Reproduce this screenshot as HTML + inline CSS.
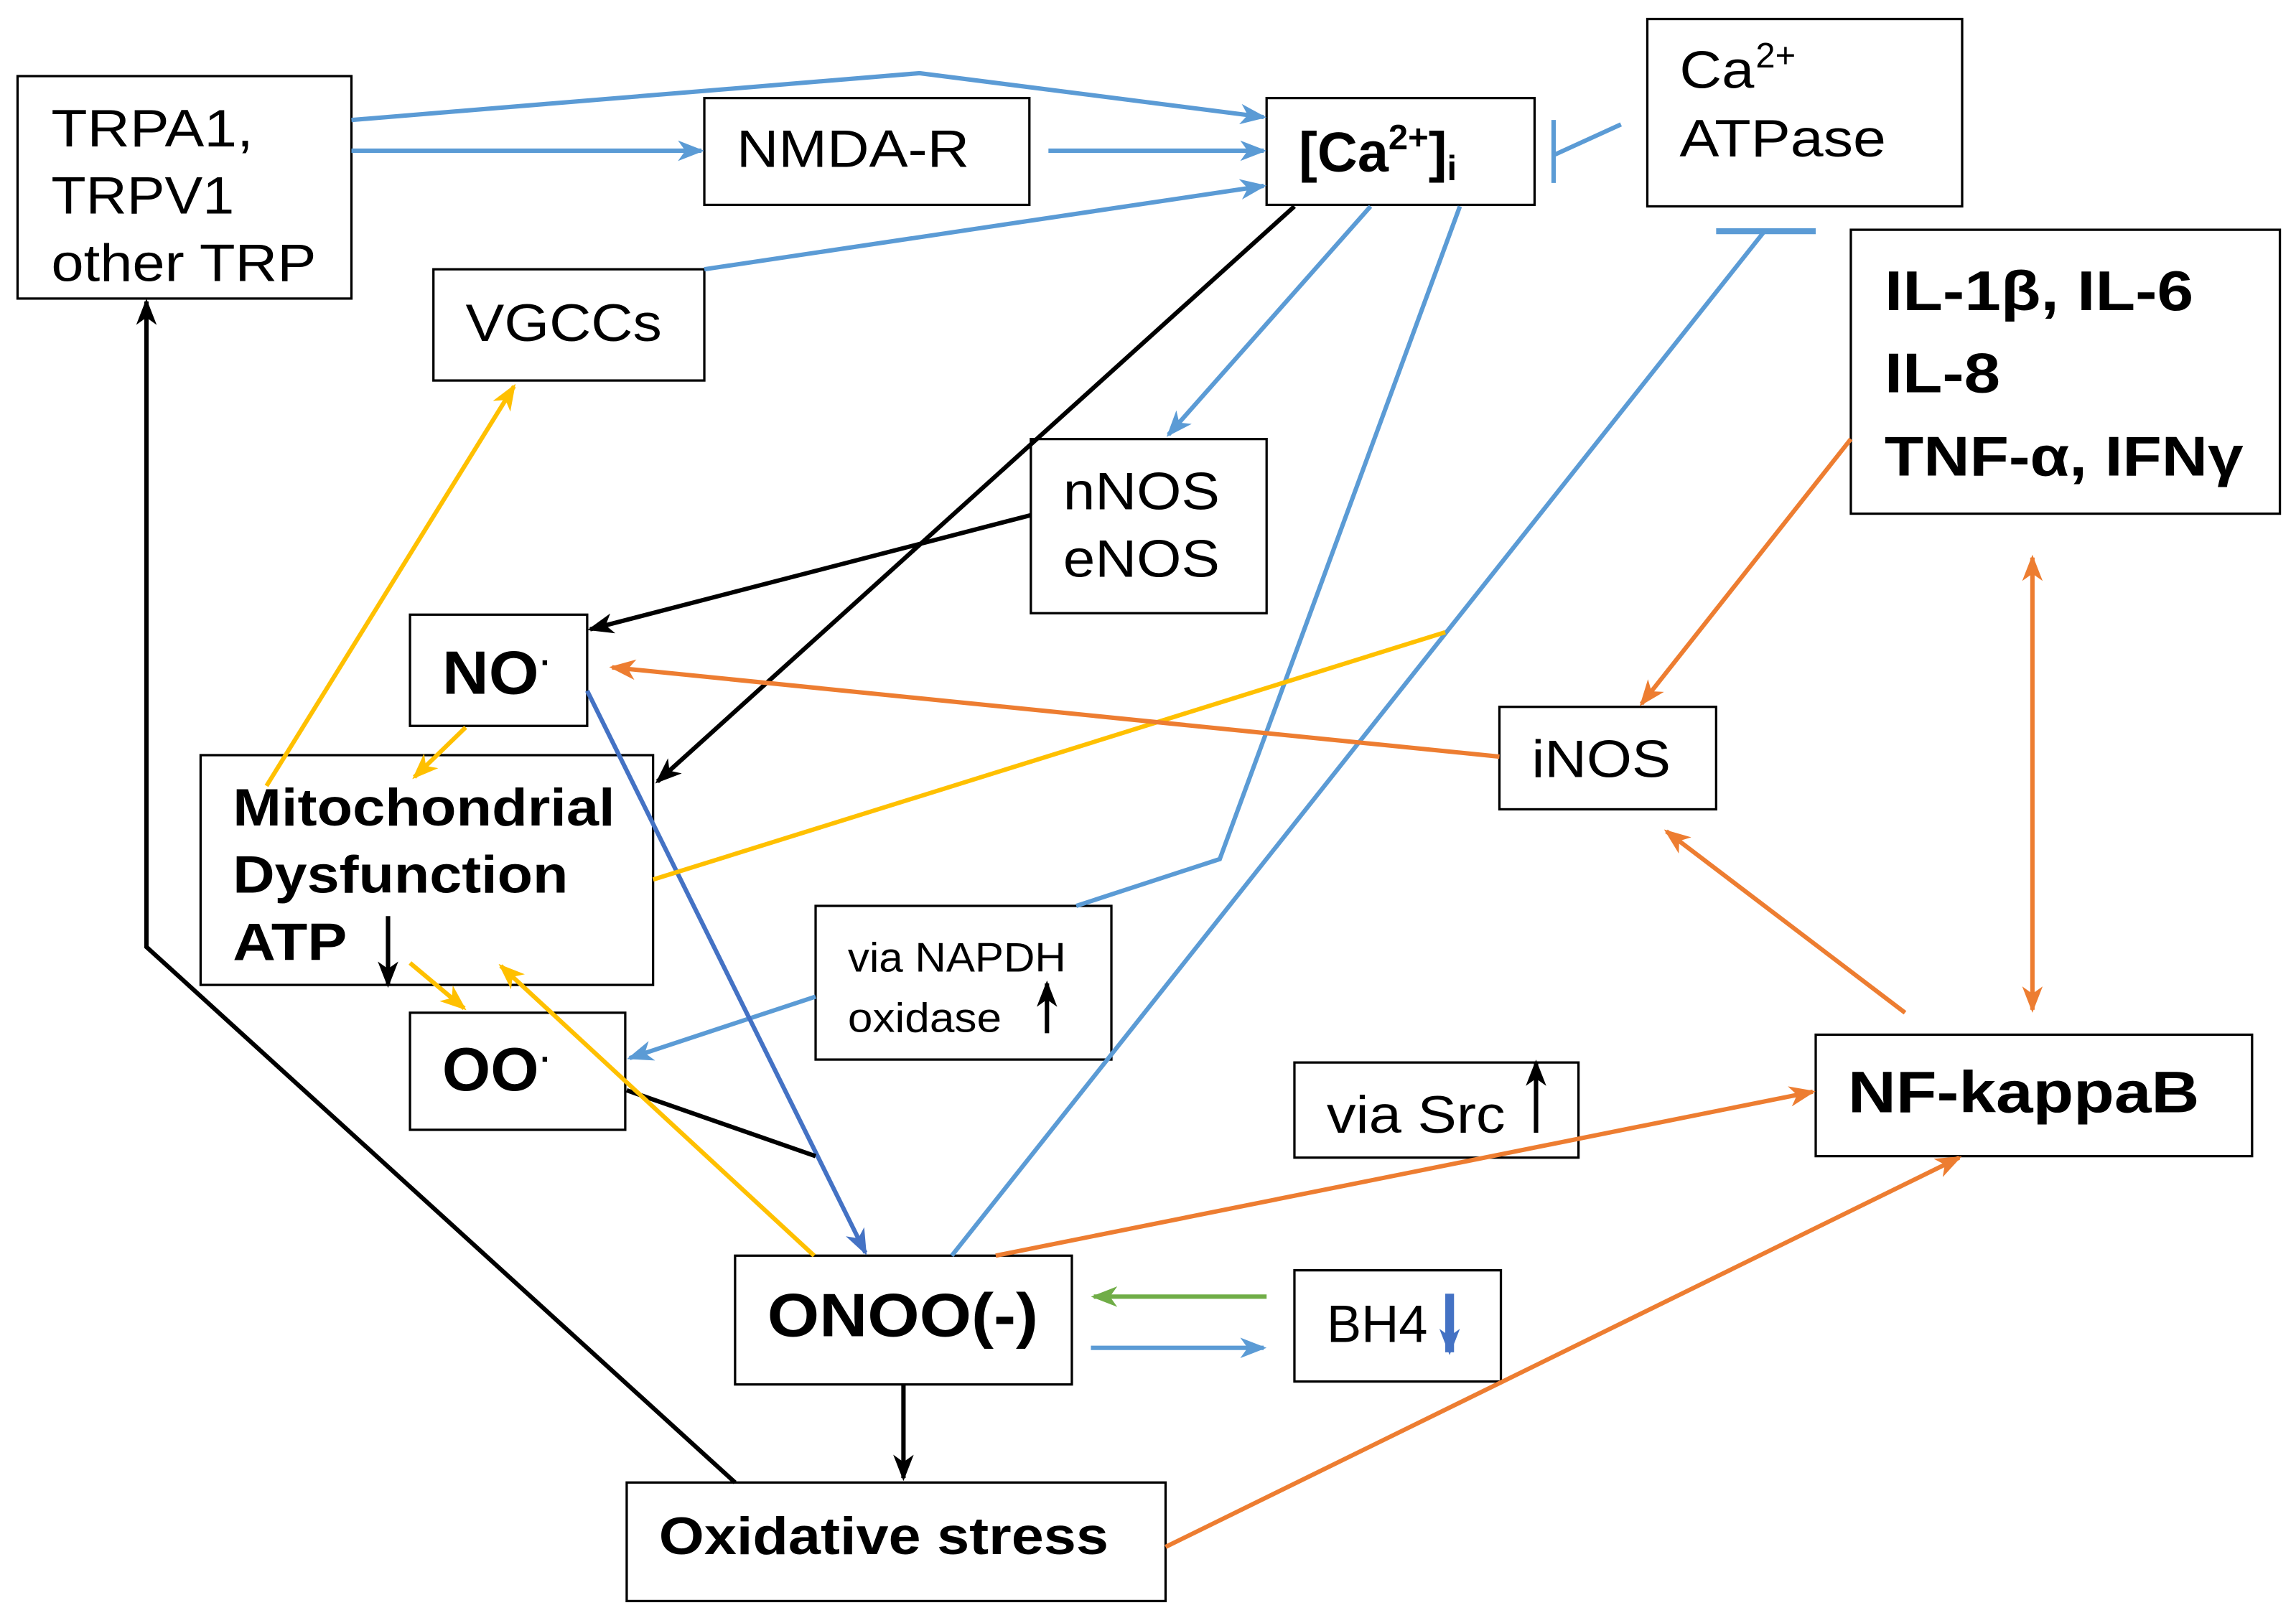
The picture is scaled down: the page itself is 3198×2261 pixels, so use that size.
<!DOCTYPE html>
<html><head><meta charset="utf-8"><style>
html,body{margin:0;padding:0;background:#fff;}
svg{display:block;}
text{font-family:"Liberation Sans",Arial,sans-serif;fill:#000;}
.b{font-weight:bold;}
</style></head><body>
<svg width="3198" height="2261" viewBox="0 0 1568 1109" preserveAspectRatio="none" xmlns="http://www.w3.org/2000/svg">
<defs>
<marker id="ab" markerWidth="18" markerHeight="14" refX="16" refY="7" orient="auto" markerUnits="userSpaceOnUse" viewBox="0 0 18 14"><path d="M0,0 L18,7 L0,14 L5,7z" fill="#5B9BD5"/></marker>
<marker id="ad" markerWidth="18" markerHeight="14" refX="16" refY="7" orient="auto" markerUnits="userSpaceOnUse" viewBox="0 0 18 14"><path d="M0,0 L18,7 L0,14 L5,7z" fill="#4472C4"/></marker>
<marker id="ak" markerWidth="18" markerHeight="14" refX="16" refY="7" orient="auto" markerUnits="userSpaceOnUse" viewBox="0 0 18 14"><path d="M0,0 L18,7 L0,14 L5,7z" fill="#000"/></marker>
<marker id="ay" markerWidth="18" markerHeight="14" refX="16" refY="7" orient="auto" markerUnits="userSpaceOnUse" viewBox="0 0 18 14"><path d="M0,0 L18,7 L0,14 L5,7z" fill="#FFC000"/></marker>
<marker id="ao" markerWidth="18" markerHeight="14" refX="16" refY="7" orient="auto-start-reverse" markerUnits="userSpaceOnUse" viewBox="0 0 18 14"><path d="M0,0 L18,7 L0,14 L5,7z" fill="#ED7D31"/></marker>
<marker id="ag" markerWidth="18" markerHeight="14" refX="16" refY="7" orient="auto" markerUnits="userSpaceOnUse" viewBox="0 0 18 14"><path d="M0,0 L18,7 L0,14 L5,7z" fill="#70AD47"/></marker>
</defs>
<g fill="#fff" stroke="#000" stroke-width="1.6">
<rect x="12" y="52" width="228" height="152"/>
<rect x="481" y="67" width="222" height="73"/>
<rect x="865" y="67" width="183" height="73"/>
<rect x="1125" y="13" width="215" height="128"/>
<rect x="296" y="184" width="185" height="76"/>
<rect x="1264" y="157" width="293" height="194"/>
<rect x="704" y="300" width="161" height="119"/>
<rect x="280" y="420" width="121" height="76"/>
<rect x="1024" y="483" width="148" height="70"/>
<rect x="137" y="516" width="309" height="157"/>
<rect x="557" y="619" width="202" height="105"/>
<rect x="280" y="692" width="147" height="80"/>
<rect x="884" y="726" width="194" height="65"/>
<rect x="1240" y="707" width="298" height="83"/>
<rect x="502" y="858" width="230" height="88"/>
<rect x="884" y="868" width="141" height="76"/>
<rect x="428" y="1013" width="368" height="81"/>
</g>
<g fill="none" stroke-width="3">
<polyline points="240,82 628,50 863,80" stroke="#5B9BD5" marker-end="url(#ab)"/>
<line x1="240" y1="103" x2="479" y2="103" stroke="#5B9BD5" marker-end="url(#ab)"/>
<line x1="716" y1="103" x2="863" y2="103" stroke="#5B9BD5" marker-end="url(#ab)"/>
<line x1="481" y1="184" x2="863" y2="127" stroke="#5B9BD5" marker-end="url(#ab)"/>
<line x1="936" y1="141" x2="798" y2="297" stroke="#5B9BD5" marker-end="url(#ab)"/>
<polyline points="997,141 833,587 735,619" stroke="#5B9BD5"/>
<line x1="557" y1="681" x2="430" y2="723" stroke="#5B9BD5" marker-end="url(#ab)"/>
<line x1="1205" y1="158" x2="650" y2="858" stroke="#5B9BD5"/>
<line x1="1172" y1="158" x2="1240" y2="158" stroke="#5B9BD5" stroke-width="4"/>
<line x1="1107" y1="85" x2="1061" y2="106" stroke="#5B9BD5"/>
<line x1="1061" y1="82" x2="1061" y2="125" stroke="#5B9BD5"/>
<line x1="745" y1="921" x2="863" y2="921" stroke="#5B9BD5" marker-end="url(#ab)"/>
<line x1="401" y1="472" x2="591" y2="856" stroke="#4472C4" marker-end="url(#ad)"/>
<line x1="865" y1="886" x2="747" y2="886" stroke="#70AD47" marker-end="url(#ag)"/>
<line x1="884" y1="141" x2="449" y2="534" stroke="#000" marker-end="url(#ak)"/>
<line x1="704" y1="352" x2="403" y2="430" stroke="#000" marker-end="url(#ak)"/>
<line x1="428" y1="745" x2="557" y2="790" stroke="#000"/>
<polyline points="502,1013 100,647 100,206" stroke="#000" marker-end="url(#ak)"/>
<line x1="617" y1="946" x2="617" y2="1010" stroke="#000" marker-end="url(#ak)"/>
<line x1="182" y1="537" x2="351" y2="264" stroke="#FFC000" marker-end="url(#ay)"/>
<line x1="318" y1="497" x2="283" y2="531" stroke="#FFC000" marker-end="url(#ay)"/>
<line x1="446" y1="601" x2="987" y2="432" stroke="#FFC000"/>
<line x1="280" y1="658" x2="317" y2="689" stroke="#FFC000" marker-end="url(#ay)"/>
<line x1="556" y1="858" x2="342" y2="660" stroke="#FFC000" marker-end="url(#ay)"/>
<line x1="1024" y1="517" x2="418" y2="456" stroke="#ED7D31" marker-end="url(#ao)"/>
<line x1="1264" y1="300" x2="1121" y2="481" stroke="#ED7D31" marker-end="url(#ao)"/>
<line x1="1388" y1="381" x2="1388" y2="690" stroke="#ED7D31" marker-start="url(#ao)" marker-end="url(#ao)"/>
<line x1="1301" y1="692" x2="1138" y2="568" stroke="#ED7D31" marker-end="url(#ao)"/>
<line x1="680" y1="858" x2="1238" y2="746" stroke="#ED7D31" marker-end="url(#ao)"/>
<line x1="796" y1="1057" x2="1338" y2="791" stroke="#ED7D31" marker-end="url(#ao)"/>
</g>
<g font-size="36" lengthAdjust="spacingAndGlyphs">
<text x="35" y="100" textLength="138" lengthAdjust="spacingAndGlyphs">TRPA1,</text>
<text x="35" y="146" textLength="125" lengthAdjust="spacingAndGlyphs">TRPV1</text>
<text x="35" y="192" textLength="181" lengthAdjust="spacingAndGlyphs">other TRP</text>
<text x="503" y="114" textLength="159" lengthAdjust="spacingAndGlyphs">NMDA-R</text>
<text x="887" y="117" class="b" font-size="38">[Ca<tspan font-size="24" dy="-15">2+</tspan><tspan dy="15">]</tspan><tspan font-size="24" dy="6">i</tspan></text>
<text x="1147" y="60" textLength="51" lengthAdjust="spacingAndGlyphs">Ca</text><text x="1199" y="46" font-size="24">2+</text>
<text x="1147" y="107" textLength="141" lengthAdjust="spacingAndGlyphs">ATPase</text>
<text x="318" y="233" textLength="134" lengthAdjust="spacingAndGlyphs">VGCCs</text>
<text x="1287" y="212" class="b" font-size="38" textLength="211" lengthAdjust="spacingAndGlyphs">IL-1β, IL-6</text>
<text x="1287" y="268" class="b" font-size="38" textLength="79" lengthAdjust="spacingAndGlyphs">IL-8</text>
<text x="1287" y="325" class="b" font-size="38" textLength="245" lengthAdjust="spacingAndGlyphs">TNF-α, IFNγ</text>
<text x="726" y="348" textLength="107" lengthAdjust="spacingAndGlyphs">nNOS</text>
<text x="726" y="394" textLength="107" lengthAdjust="spacingAndGlyphs">eNOS</text>
<text x="302" y="474" class="b" font-size="42" textLength="66" lengthAdjust="spacingAndGlyphs">NO</text><text x="369" y="460" class="b" font-size="22">·</text>
<text x="1046" y="531" textLength="95" lengthAdjust="spacingAndGlyphs">iNOS</text>
<text x="159" y="564" class="b" textLength="261" lengthAdjust="spacingAndGlyphs">Mitochondrial</text>
<text x="159" y="610" class="b" textLength="229" lengthAdjust="spacingAndGlyphs">Dysfunction</text>
<text x="159" y="656" class="b" textLength="78" lengthAdjust="spacingAndGlyphs">ATP</text>
<text x="579" y="664" font-size="28" textLength="149" lengthAdjust="spacingAndGlyphs">via NAPDH</text>
<text x="579" y="705" font-size="28" textLength="105" lengthAdjust="spacingAndGlyphs">oxidase</text>
<text x="302" y="745" class="b" font-size="42" textLength="66" lengthAdjust="spacingAndGlyphs">OO</text><text x="369" y="731" class="b" font-size="22">·</text>
<text x="906" y="774" textLength="122" lengthAdjust="spacingAndGlyphs">via Src</text>
<text x="1262" y="760" class="b" font-size="40" textLength="240" lengthAdjust="spacingAndGlyphs">NF-kappaB</text>
<text x="524" y="913" class="b" font-size="42" textLength="185" lengthAdjust="spacingAndGlyphs">ONOO(-)</text>
<text x="906" y="917" textLength="69" lengthAdjust="spacingAndGlyphs">BH4</text>
<text x="450" y="1062" class="b" textLength="307" lengthAdjust="spacingAndGlyphs">Oxidative stress</text>
</g>
<g fill="none" stroke-width="3">
<line x1="265" y1="626" x2="265" y2="673" stroke="#000" marker-end="url(#ak)"/>
<line x1="715" y1="706" x2="715" y2="672" stroke="#000" marker-end="url(#ak)"/>
<line x1="1049" y1="774" x2="1049" y2="726" stroke="#000" marker-end="url(#ak)"/>
<line x1="990" y1="884" x2="990" y2="924" stroke="#4472C4" stroke-width="6" marker-end="url(#ad)"/>
</g>
</svg>
</body></html>
